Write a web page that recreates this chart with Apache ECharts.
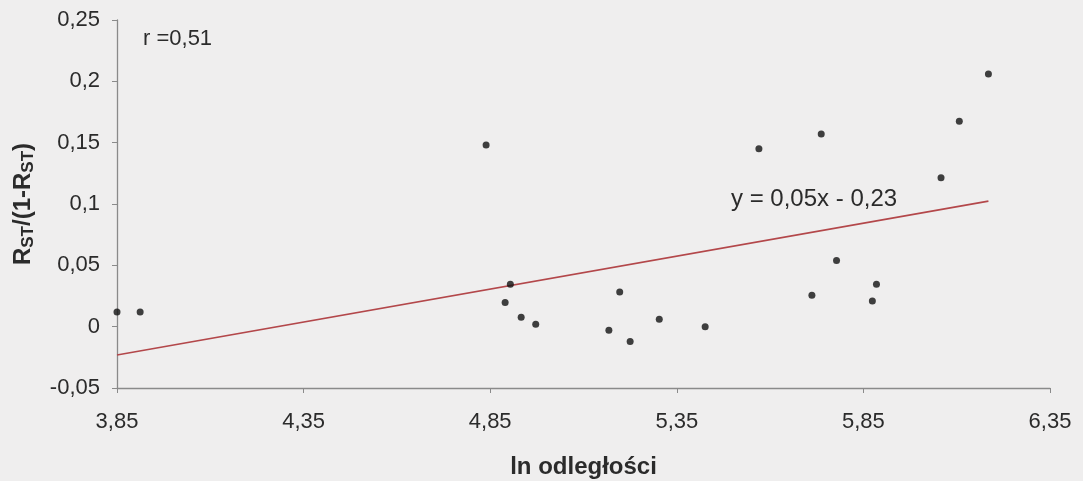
<!DOCTYPE html>
<html>
<head>
<meta charset="utf-8">
<script src="https://cdn.jsdelivr.net/npm/echarts@6/dist/echarts.min.js"></script>
<style>
  html, body { margin: 0; padding: 0; background: #efeeee; }
  #chart { width: 1083px; height: 481px; }
</style>
</head>
<body>
<div id="chart"></div>
<script>
// ln of distance between populations
const lnDistance = [
  3.85, 3.912, 4.839, 4.890, 4.904, 4.933, 4.972, 5.168, 5.197, 5.225, 5.303,
  5.426, 5.570, 5.712, 5.737, 5.778, 5.874, 5.885, 6.058, 6.107, 6.185
];
// RST/(1-RST) for each pair
const rstRatio = [
  0.012, 0.012, 0.148, 0.0196, 0.0346, 0.0077, 0.002, -0.003, 0.0283, -0.012, 0.006,
  0.000, 0.145, 0.0256, 0.157, 0.054, 0.021, 0.0346, 0.1215, 0.1674, 0.206
];
// linear fit and correlation coefficient
const fitSlope = 0.0537;
const fitIntercept = -0.2298;
const corrR = 0.51;
// axis tick values
const xTicks = [3.85, 4.35, 4.85, 5.35, 5.85, 6.35];
const yTicks = [-0.05, 0, 0.05, 0.1, 0.15, 0.2, 0.25];

const comma = v => String(+(+v).toFixed(4)).replace('.', ',');
const fmt2 = v => Math.abs(v).toFixed(2).replace('.', ',');

const points = lnDistance.map((x, i) => [x, rstRatio[i]]);
const xLo = Math.min(...lnDistance), xHi = Math.max(...lnDistance);
const fitLine = [
  [xLo, fitSlope * xLo + fitIntercept],
  [xHi, fitSlope * xHi + fitIntercept]
];
const fitLabel = 'y = ' + fmt2(fitSlope) + 'x ' + (fitIntercept < 0 ? '- ' : '+ ') + fmt2(fitIntercept);

const textColor = '#2b2b2b';
const fontFamily = '"Liberation Sans", Arial, sans-serif';
const labelSize = 22;

const chart = echarts.init(document.getElementById('chart'));
chart.setOption({
  backgroundColor: '#efeeee',
  animation: false,
  textStyle: { fontFamily: fontFamily, color: textColor },
  grid: { left: 117, right: 33, top: 20, bottom: 93, containLabel: false, outerBoundsMode: 'none' },
  xAxis: {
    type: 'value',
    min: xTicks[0],
    max: xTicks[xTicks.length - 1],
    name: 'ln odległości',
    nameLocation: 'middle',
    nameGap: 67,
    nameTextStyle: { fontSize: 24, fontWeight: 'bold', color: textColor, fontFamily: fontFamily },
    axisLine: { onZero: false, lineStyle: { color: '#8a8a8a', width: 1.3 } },
    axisTick: { show: true, inside: false, length: 5, customValues: xTicks, lineStyle: { color: '#8a8a8a' } },
    axisLabel: { customValues: xTicks, formatter: comma, fontSize: labelSize, margin: 23, color: textColor, fontFamily: fontFamily },
    splitLine: { show: false }
  },
  yAxis: {
    type: 'value',
    min: yTicks[0],
    max: yTicks[yTicks.length - 1],
    interval: 0.05,
    name: '{b|R}{s|ST}{b|/(1-R}{s|ST}{b|)}',
    nameLocation: 'middle',
    nameGap: 82,
    nameRotate: 90,
    nameTextStyle: {
      rich: {
        b: { fontSize: 24, fontWeight: 'bold', color: textColor, fontFamily: fontFamily, verticalAlign: 'bottom' },
        s: { fontSize: 17, fontWeight: 'bold', color: textColor, fontFamily: fontFamily, verticalAlign: 'bottom', padding: [0, 0, -2, 0] }
      }
    },
    axisLine: { show: true, onZero: false, lineStyle: { color: '#8a8a8a', width: 1.3 } },
    axisTick: { show: true, inside: false, length: 5, lineStyle: { color: '#8a8a8a' } },
    axisLabel: { formatter: comma, fontSize: labelSize, margin: 17, color: textColor, fontFamily: fontFamily },
    splitLine: { show: false }
  },
  series: [
    {
      type: 'line',
      data: fitLine,
      symbol: 'none',
      lineStyle: { color: '#b3474a', width: 1.6 },
      silent: true,
      z: 1
    },
    {
      type: 'scatter',
      data: points,
      symbol: 'circle',
      symbolSize: 7,
      itemStyle: { color: '#111111' },
      z: 3
    }
  ],
  graphic: [
    {
      type: 'text',
      left: 143,
      top: 28,
      style: { text: 'r =' + fmt2(corrR), fontSize: labelSize, fill: textColor, fontFamily: fontFamily }
    },
    {
      type: 'text',
      left: 731,
      top: 187,
      style: { text: fitLabel, fontSize: 24, fill: textColor, fontFamily: fontFamily }
    }
  ]
});
</script>
</body>
</html>
